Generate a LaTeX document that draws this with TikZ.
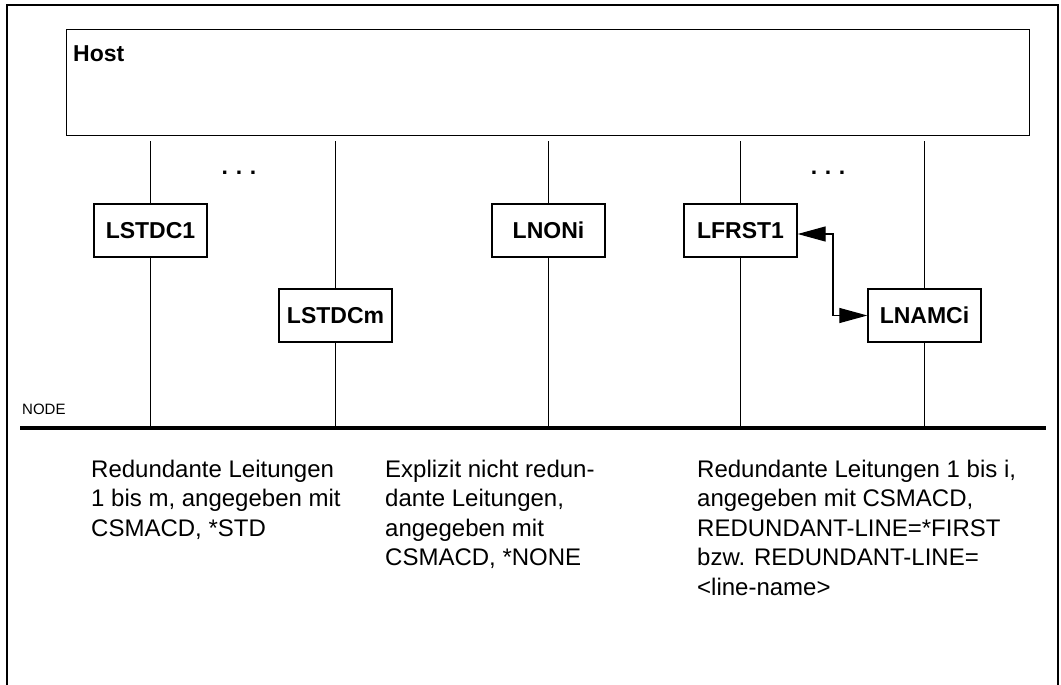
\documentclass[tikz,border=0pt]{standalone}
\usepackage{fontspec}
\setmainfont{Liberation Sans}
\usetikzlibrary{arrows.meta}
\tikzset{
  frame/.style={line width=1.6pt},
  wire/.style={line width=1.2pt},
  bus/.style={line width=4.5pt},
  linebox/.style={draw, line width=1.3pt, fill=white, minimum width=113pt, minimum height=53pt, inner sep=0pt,
    font=\fontsize{23}{27}\selectfont\bfseries},
  desc/.style={anchor=north west, inner sep=0pt, align=left, font=\fontsize{24}{29.5}\selectfont},
  dots/.style={anchor=base, inner sep=0pt, font=\fontsize{23}{27}\selectfont\bfseries},
  bigtip/.tip={Triangle[length=28pt,width=15pt]}
}
\begin{document}
\begin{tikzpicture}[x=1pt,y=-1pt]
\useasboundingbox (0,0) rectangle (1061,685);
% outer frame (open at bottom)
\draw[frame] (7,685) -- (7,5) -- (1058,5) -- (1058,685);
% host
\node[draw, line width=1.3pt, minimum width=963pt, minimum height=106pt, inner sep=0pt, anchor=north west] (host) at (66,29) {};
\node[anchor=base west, inner sep=0pt, font=\fontsize{23}{27}\selectfont\bfseries] (hosttxt) at (73,62) {Host};
% bus
\coordinate (busL) at (20,428);
\coordinate (busR) at (1046,428);
\draw[bus] (busL) -- (busR);
\node[anchor=base west, inner sep=0pt, font=\fontsize{15}{18}\selectfont] (nodetxt) at (22,414) {NODE};
% line boxes
\node[linebox] (l1) at (150.5,230.5) {LSTDC1};
\node[linebox] (lm) at (335.5,315.5) {LSTDCm};
\node[linebox] (ln) at (548.5,230.5) {LNONi};
\node[linebox] (lf) at (740.5,230.5) {LFRST1};
\node[linebox] (la) at (924.5,315.5) {LNAMCi};
\coordinate (top) at (0,141);
% vertical wires
\foreach \b in {l1,lm,ln,lf,la}{
  \draw[wire] (top -| \b) -- (\b.north);
  \draw[wire] (\b.south) -- (busL -| \b);
}
% dots
\node[dots] (d1) at (239,174) {.\,\,.\,\,.};
\node[dots] (d2) at (828,174) {.\,\,.\,\,.};
% redundancy arrow
\coordinate (bend) at (833,0);
\draw[wire, line width=1.2pt, {bigtip}-{bigtip}] ([yshift=-3.5pt]lf.east) -- ([yshift=-3.5pt]lf.east -| bend) |- (la.west);
% descriptions
\node[desc] (t1) at (91,459.5) {Redundante Leitungen\\1 bis m, angegeben mit\\CSMACD, *STD};
\node[desc] (t2) at (385,459.5) {Explizit nicht redun-\\dante Leitungen,\\angegeben mit\\CSMACD, *NONE};
\node[desc] (t3) at (697,459.5) {Redundante Leitungen 1 bis i,\\angegeben mit CSMACD,\\REDUNDANT-LINE=*FIRST\\bzw. REDUNDANT-LINE=\\<line-name>};
\end{tikzpicture}
\end{document}
